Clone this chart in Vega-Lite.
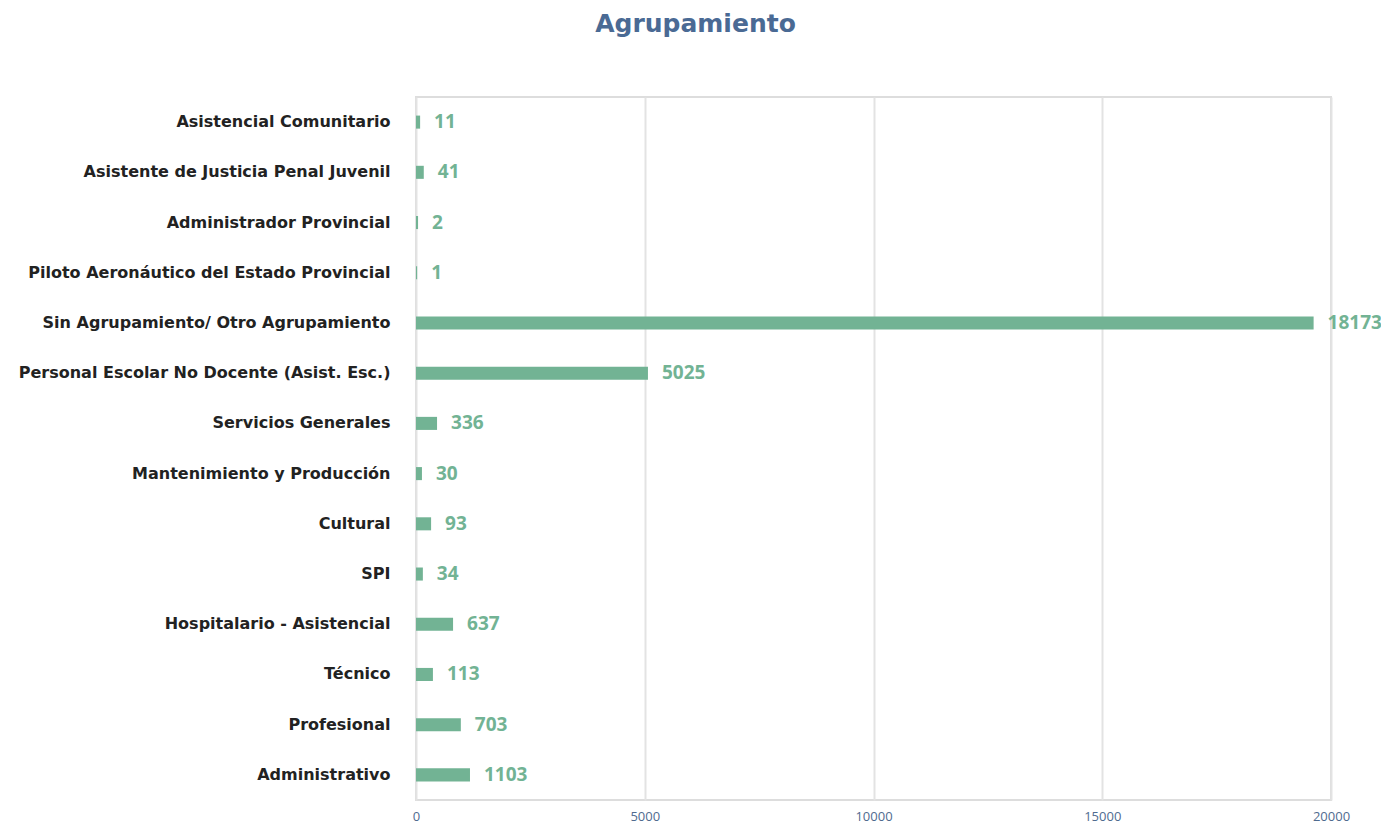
{
  "$schema": "https://vega.github.io/schema/vega-lite/v6.json",
  "width": 915,
  "height": 703,
  "autosize": "none",
  "padding": {"left": 416, "top": 97, "right": 50, "bottom": 28},
  "background": "white",
  "title": {
    "text": "Agrupamiento",
    "anchor": "middle",
    "dx": -178,
    "offset": 60,
    "fontSize": 25,
    "font": "DejaVu Sans",
    "fontWeight": "bold",
    "color": "#4a6a94"
  },
  "data": {
    "values": [
      {"agrupamiento": "Asistencial Comunitario", "valor": 11, "largo": 90},
      {"agrupamiento": "Asistente de Justicia Penal Juvenil", "valor": 41, "largo": 170},
      {"agrupamiento": "Administrador Provincial", "valor": 2, "largo": 45},
      {"agrupamiento": "Piloto Aeronáutico del Estado Provincial", "valor": 1, "largo": 25},
      {"agrupamiento": "Sin Agrupamiento/ Otro Agrupamiento", "valor": 18173, "largo": 19620},
      {"agrupamiento": "Personal Escolar No Docente (Asist. Esc.)", "valor": 5025, "largo": 5070},
      {"agrupamiento": "Servicios Generales", "valor": 336, "largo": 460},
      {"agrupamiento": "Mantenimiento y Producción", "valor": 30, "largo": 130},
      {"agrupamiento": "Cultural", "valor": 93, "largo": 330},
      {"agrupamiento": "SPI", "valor": 34, "largo": 150},
      {"agrupamiento": "Hospitalario - Asistencial", "valor": 637, "largo": 810},
      {"agrupamiento": "Técnico", "valor": 113, "largo": 370},
      {"agrupamiento": "Profesional", "valor": 703, "largo": 980},
      {"agrupamiento": "Administrativo", "valor": 1103, "largo": 1180}
    ]
  },
  "config": {
    "view": {"stroke": "#dddddd", "strokeWidth": 2},
    "font": "DejaVu Sans"
  },
  "encoding": {
    "y": {
      "field": "agrupamiento",
      "type": "nominal",
      "sort": null,
      "title": null,
      "scale": {"paddingInner": 0.74, "paddingOuter": 0.37},
      "axis": {
        "domain": false,
        "ticks": false,
        "grid": false,
        "labelPadding": 26,
        "labelFont": "DejaVu Sans",
        "labelFontSize": 16,
        "labelFontWeight": "bold",
        "labelColor": "#222222",
        "labelLimit": 500
      }
    },
    "x": {
      "field": "largo",
      "type": "quantitative",
      "title": null,
      "scale": {"domain": [0, 20000], "nice": false},
      "axis": {
        "values": [0, 5000, 10000, 15000, 20000],
        "domain": false,
        "ticks": false,
        "grid": true,
        "gridColor": "#e3e3e3",
        "gridWidth": 2,
        "labelFlush": false,
        "labelPadding": 10,
        "labelFont": "Open Sans",
        "labelFontSize": 13,
        "labelColor": "#4f6b8f",
        "format": "d"
      }
    }
  },
  "layer": [
    {"mark": {"type": "bar", "color": "#72b394"}},
    {
      "mark": {
        "type": "text",
        "align": "left",
        "baseline": "middle",
        "dx": 14,
        "font": "Open Sans",
        "fontSize": 19,
        "fontWeight": "bold",
        "color": "#72b394"
      },
      "encoding": {"text": {"field": "valor", "type": "quantitative", "format": "d"}}
    }
  ]
}
